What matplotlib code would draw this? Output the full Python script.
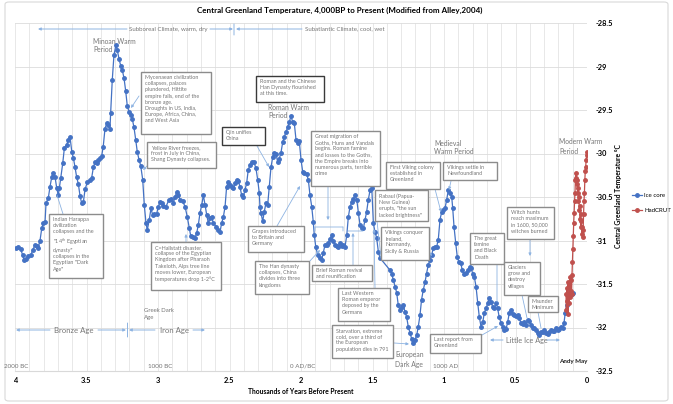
import matplotlib
matplotlib.use("Agg")
import matplotlib.pyplot as plt
from matplotlib.patches import Rectangle, FancyArrowPatch, FancyBboxPatch
import numpy as np

plt.rcParams['font.family'] = ['Lato', 'DejaVu Sans']

# GISP2 ice core (Alley 2004), thousands of years BP vs temperature (deg C)
ice_kyr = [
    3.993, 3.977, 3.960, 3.946, 3.937, 3.923, 3.907, 3.890, 3.876, 3.860,
    3.848, 3.839, 3.825, 3.813, 3.802, 3.790, 3.783, 3.767, 3.755, 3.743,
    3.732, 3.720, 3.708, 3.697, 3.690, 3.680, 3.666, 3.655, 3.638, 3.627,
    3.615, 3.603, 3.592, 3.580, 3.569, 3.557, 3.545, 3.534, 3.522, 3.510,
    3.494, 3.476, 3.464, 3.452, 3.441, 3.429, 3.417, 3.406, 3.394, 3.383,
    3.371, 3.359, 3.348, 3.336, 3.331, 3.320, 3.308, 3.294, 3.285, 3.273,
    3.261, 3.250, 3.238, 3.226, 3.215, 3.203, 3.191, 3.180, 3.168, 3.156,
    3.145, 3.133, 3.121, 3.107, 3.096, 3.084, 3.075, 3.061, 3.049, 3.037,
    3.026, 3.009, 2.998, 2.986, 2.974, 2.963, 2.944, 2.923, 2.909, 2.893,
    2.881, 2.869, 2.858, 2.846, 2.827, 2.811, 2.795, 2.781, 2.771, 2.757,
    2.741, 2.729, 2.718, 2.706, 2.694, 2.683, 2.671, 2.659, 2.648, 2.636,
    2.624, 2.613, 2.594, 2.578, 2.566, 2.555, 2.543, 2.531, 2.520, 2.508,
    2.497, 2.483, 2.473, 2.462, 2.450, 2.438, 2.427, 2.415, 2.403, 2.392,
    2.380, 2.369, 2.357, 2.345, 2.329, 2.315, 2.303, 2.292, 2.287, 2.280,
    2.268, 2.257, 2.245, 2.233, 2.222, 2.210, 2.198, 2.187, 2.175, 2.163,
    2.152, 2.140, 2.128, 2.117, 2.105, 2.093, 2.082, 2.070, 2.058, 2.047,
    2.035, 2.023, 2.012, 2.000, 1.988, 1.977, 1.960, 1.949, 1.937, 1.925,
    1.914, 1.907, 1.897, 1.883, 1.867, 1.855, 1.844, 1.832, 1.820, 1.809,
    1.797, 1.785, 1.774, 1.762, 1.750, 1.739, 1.727, 1.715, 1.704, 1.692,
    1.680, 1.669, 1.657, 1.645, 1.634, 1.622, 1.610, 1.599, 1.587, 1.575,
    1.564, 1.552, 1.541, 1.529, 1.517, 1.505, 1.494, 1.483, 1.471, 1.459,
    1.448, 1.378, 1.366, 1.355, 1.343, 1.331, 1.320, 1.308, 1.296, 1.285,
    1.273, 1.261, 1.250, 1.238, 1.226, 1.215, 1.203, 1.191, 1.180, 1.168,
    1.157, 1.145, 1.133, 1.122, 1.110, 1.098, 1.087, 1.075, 1.063, 1.051,
    1.040, 1.028, 1.016, 1.005, 0.993, 0.981, 0.970, 0.958, 0.946, 0.939,
    0.930, 0.918, 0.907, 0.895, 0.883, 0.872, 0.860, 0.846, 0.831, 0.820,
    0.811, 0.799, 0.788, 0.776, 0.764, 0.753, 0.741, 0.729, 0.718, 0.706,
    0.694, 0.683, 0.671, 0.660, 0.649, 0.636, 0.625, 0.614, 0.601, 0.590,
    0.578, 0.566, 0.555, 0.543, 0.531, 0.520, 0.508, 0.497, 0.485, 0.474,
    0.462, 0.450, 0.439, 0.427, 0.415, 0.404, 0.392, 0.380, 0.369, 0.357,
    0.345, 0.334, 0.322, 0.311, 0.299, 0.287, 0.275, 0.264, 0.252, 0.241,
    0.229, 0.217, 0.205, 0.194, 0.182, 0.170, 0.161, 0.152, 0.142, 0.131,
    0.119, 0.107, 0.096,
]
ice_temp = [
    -31.09, -31.08, -31.10, -31.17, -31.22, -31.21, -31.18, -31.17, -31.11, -31.05,
    -31.06, -31.09, -31.00, -30.86, -30.80, -30.79, -30.57, -30.51, -30.38, -30.27,
    -30.22, -30.27, -30.40, -30.48, -30.40, -30.28, -30.11, -29.94, -29.90, -29.84,
    -29.81, -29.98, -30.05, -30.16, -30.27, -30.35, -30.49, -30.57, -30.56, -30.41,
    -30.33, -30.31, -30.28, -30.16, -30.10, -30.11, -30.07, -30.05, -30.03, -29.92,
    -29.72, -29.65, -29.67, -29.72, -29.53, -29.16, -28.87, -28.75, -28.81, -28.91,
    -28.99, -29.04, -29.13, -29.28, -29.45, -29.52, -29.56, -29.60, -29.70, -29.84,
    -29.98, -30.07, -30.14, -30.30, -30.59, -30.80, -30.88, -30.76, -30.63, -30.71,
    -30.69, -30.69, -30.61, -30.56, -30.57, -30.60, -30.61, -30.53, -30.52, -30.57,
    -30.50, -30.44, -30.48, -30.53, -30.55, -30.61, -30.73, -30.86, -30.95, -30.96,
    -30.97, -30.91, -30.82, -30.68, -30.59, -30.48, -30.59, -30.71, -30.80, -30.74,
    -30.73, -30.80, -30.84, -30.88, -30.90, -30.80, -30.73, -30.61, -30.38, -30.33,
    -30.36, -30.38, -30.40, -30.34, -30.30, -30.32, -30.38, -30.48, -30.50, -30.42,
    -30.34, -30.19, -30.13, -30.10, -30.10, -30.17, -30.30, -30.45, -30.61, -30.68,
    -30.78, -30.67, -30.57, -30.59, -30.38, -30.16, -30.04, -29.99, -30.00, -30.10,
    -30.06, -29.99, -29.87, -29.81, -29.75, -29.70, -29.64, -29.57, -29.64, -29.65,
    -29.84, -29.88, -29.86, -30.07, -30.21, -30.22, -30.24, -30.30, -30.48, -30.61,
    -30.79, -30.94, -31.07, -31.17, -31.20, -31.22, -31.14, -31.05, -31.05, -31.03,
    -30.98, -30.94, -31.00, -31.05, -31.06, -31.07, -31.03, -31.06, -31.05, -31.07,
    -30.94, -30.73, -30.61, -30.56, -30.52, -30.48, -30.53, -30.68, -30.82, -30.86,
    -30.86, -30.76, -30.67, -30.53, -30.42, -30.40, -30.80, -30.90, -30.97, -31.13,
    -31.20, -31.34, -31.38, -31.45, -31.53, -31.60, -31.74, -31.80, -31.76, -31.74,
    -31.82, -31.88, -31.99, -32.06, -32.13, -32.18, -32.14, -32.09, -31.99, -31.86,
    -31.68, -31.57, -31.48, -31.38, -31.28, -31.22, -31.17, -31.09, -31.08, -31.07,
    -30.99, -30.76, -30.67, -30.65, -30.63, -30.53, -30.42, -30.45, -30.50, -30.63,
    -30.84, -31.03, -31.19, -31.25, -31.26, -31.34, -31.38, -31.37, -31.34, -31.30,
    -31.32, -31.38, -31.42, -31.53, -31.72, -31.88, -31.99, -31.94, -31.83, -31.78,
    -31.72, -31.66, -31.71, -31.76, -31.78, -31.72, -31.78, -31.88, -31.95, -31.99,
    -32.03, -32.02, -31.94, -31.83, -31.80, -31.84, -31.86, -31.87, -31.86, -31.89,
    -31.95, -31.96, -31.94, -31.97, -31.91, -31.93, -31.97, -32.01, -32.00, -32.03,
    -32.06, -32.09, -32.05, -32.05, -32.03, -32.06, -32.08, -32.05, -32.03, -32.04,
    -32.04, -32.01, -32.03, -32.02, -31.99, -32.01, -31.95, -31.83, -31.74, -31.65,
    -31.60, -31.61, -31.60,
]

# HadCRUT (scaled to Greenland), thousands of years BP vs temperature
red_kyr = [
    0.147, 0.144, 0.141, 0.138, 0.135, 0.132, 0.129, 0.126, 0.123, 0.120,
    0.117, 0.114, 0.111, 0.108, 0.105, 0.102, 0.099, 0.096, 0.093, 0.090,
    0.087, 0.084, 0.081, 0.078, 0.075, 0.072, 0.069, 0.066, 0.063, 0.060,
    0.057, 0.054, 0.051, 0.048, 0.045, 0.042, 0.039, 0.036, 0.033, 0.030,
    0.027, 0.024, 0.021, 0.018, 0.015, 0.012, 0.009, 0.006, 0.003, 0.001,
]
red_temp = [
    -31.62, -31.80, -31.55, -31.70, -31.48, -31.85, -31.60, -31.72, -31.50, -31.65,
    -31.42, -31.58, -31.45, -31.62, -31.40, -31.25, -31.10, -30.95, -30.80, -30.68,
    -30.55, -30.45, -30.30, -30.22, -30.28, -30.35, -30.30, -30.45, -30.40, -30.55,
    -30.50, -30.65, -30.60, -30.75, -30.70, -30.85, -30.78, -30.92, -30.85, -30.96,
    -30.88, -30.70, -30.55, -30.45, -30.30, -30.20, -30.15, -30.08, -30.02, -29.98,
]

x_ticks = [4, 3.5, 3, 2.5, 2, 1.5, 1, 0.5, 0]
y_ticks = [-28.5, -29, -29.5, -30, -30.5, -31, -31.5, -32, -32.5]

W, H = 673, 404
BLUE = '#4472c4'
RED = '#c0504d'
ARROW = '#8db3e2'
GRAY_TXT = '#767676'
BOX_EDGE = '#8c8c8c'
DARK_EDGE = '#3a3a3a'


def fpos(x, y):
    # pixel position (from top-left) -> figure fraction
    return x / W, 1 - y / H


fig = plt.figure(figsize=(W / 100, H / 100), dpi=100)
fig.patch.set_facecolor('white')
fig.add_artist(FancyBboxPatch(fpos(5, 401), 663 / W, 399 / H, boxstyle='round,pad=0,rounding_size=0.006',
                              transform=fig.transFigure, facecolor='none', edgecolor='#d9d9d9', lw=0.8))

ax = fig.add_axes([15 / W, 1 - 371 / H, 572 / W, 348 / H])
ax.set_xlim(4, 0)
ax.set_ylim(-32.5, -28.5)

ax.plot(ice_kyr, ice_temp, color=BLUE, lw=0.9, marker='o', ms=2.5, mec=BLUE, mfc=BLUE, label='Ice core', zorder=3)
ax.plot(red_kyr, red_temp, color=RED, lw=0.9, marker='o', ms=2.5, mec=RED, mfc=RED, label='HadCRUT', zorder=3)

ax.set_xticks(x_ticks)
ax.set_xticklabels([('%g' % t) for t in x_ticks], fontsize=5.4, fontweight='bold')
ax.set_xticks(np.arange(0, 4.01, 0.1), minor=True)
ax.yaxis.tick_right()
ax.set_yticks(y_ticks)
ax.set_yticklabels([('%g' % t) for t in y_ticks], fontsize=5.4, fontweight='bold')
ax.tick_params(axis='both', which='both', length=0)
ax.tick_params(axis='x', pad=4)
ax.tick_params(axis='y', pad=6)
ax.grid(axis='x', which='both', color='#e4e4e4', lw=0.6)
ax.grid(axis='y', which='major', color='#dcdcdc', lw=0.6)
ax.set_axisbelow(True)
for s in ['top', 'left', 'right']:
    ax.spines[s].set_visible(False)
ax.spines['bottom'].set_color('#d9d9d9')
ax.spines['bottom'].set_linewidth(0.8)

ax.legend(loc='upper left', bbox_to_anchor=fpos(626, 187), bbox_transform=fig.transFigure,
          frameon=False, fontsize=4.4, handlelength=1.7, labelspacing=1.7, handletextpad=0.4)

fig.text(*fpos(340, 10), 'Central Greenland Temperature, 4,000BP to Present (Modified from Alley,2004)',
         ha='center', va='center', fontsize=5.8, fontweight='bold')
fig.text(*fpos(301, 391), 'Thousands of Years Before Present', ha='center', va='center',
         fontsize=4.9, fontweight='bold')
fig.text(*fpos(618, 196), 'Central Greenland Temperature °C', ha='center', va='center',
         rotation=90, fontsize=4.9, fontweight='bold')

# period / era labels, one text per line
labels = [
    (93, 41, 'Minoan Warm', 4.9), (93, 49, 'Period', 4.9),
    (268, 108, 'Roman Warm', 4.9), (268, 116, 'Period', 4.9),
    (434, 144, 'Medieval', 4.9), (434, 152, 'Warm Period', 4.9),
    (559, 142, 'Modern Warm', 4.8), (559, 151, 'Period', 4.8),
    (395, 355, 'European', 4.9), (395, 364, 'Dark Age', 4.9),
    (144, 310, 'Greek Dark', 4.3), (144, 318, 'Age', 4.3),
]
for x, y, t, fs in labels:
    fig.text(*fpos(x, y), t, ha='left', va='center', fontsize=fs, color=GRAY_TXT)

for x, t in [(4, '2000 BC'), (148, '1000 BC'), (290, '0 AD/BC'), (433, '1000 AD')]:
    fig.text(*fpos(x, 366), t, ha='left', va='center', fontsize=4.5, color=GRAY_TXT)
fig.text(*fpos(559, 361), 'Andy May', ha='left', va='center', fontsize=4.5, fontweight='bold', color='#222222')

# annotation boxes: x0, y0, x1, y1 (pixels), text, edge colour
boxes = [
    (141, 72, 211, 134, 'Mycenaean civilization\ncollapses, palaces\nplundered, Hittite\nempire falls, end of the\n'
                        'bronze age.\nDroughts in US, India,\nEurope, Africa, China,\nand West Asia', BOX_EDGE),
    (147, 142, 216, 168, 'Yellow River freezes,\nfrost in July in China,\nShang Dynasty collapses.', BOX_EDGE),
    (256, 76, 324, 102, 'Roman and the Chinese\nHan Dynasty flourished\nat this time.', DARK_EDGE),
    (222, 127, 265, 145, 'Qin unifies\nChina', DARK_EDGE),
    (311, 131, 380, 186, 'Great migration of\nGoths, Huns and Vandals\nbegins. Roman famine\nand losses to the Goths,\n'
                         'the Empire breaks into\nnumerous parts, terrible\ncrime', BOX_EDGE),
    (248, 226, 304, 252, 'Grapes introduced\nto Britain and\nGermany', BOX_EDGE),
    (255, 261, 309, 294, 'The Han dynasty\ncollapses, China\ndivides into three\nkingdoms', BOX_EDGE),
    (312, 265, 372, 281, 'Brief Roman revival\nand reunification', BOX_EDGE),
    (338, 288, 390, 321, 'Last Western\nRoman emperor\ndeposed by the\nGermans', BOX_EDGE),
    (332, 325, 393, 358, 'Starvation, extreme\ncold, over a third of\nthe European\npopulation dies in 791', BOX_EDGE),
    (375, 190, 428, 221, 'Rabaul (Papua-\nNew Guinea)\nerupts, "the sun\nlacked brightness"', BOX_EDGE),
    (386, 162, 440, 189, 'First Viking colony\nestablished in\nGreenland', BOX_EDGE),
    (443, 162, 497, 180, 'Vikings settle in\nNewfoundland', BOX_EDGE),
    (381, 227, 429, 260, 'Vikings conquer\nIreland,\nNormandy,\nSicily & Russia', BOX_EDGE),
    (470, 233, 504, 264, 'The great\nfamine\nand Black\nDeath', BOX_EDGE),
    (507, 207, 554, 239, 'Witch hunts\nreach maximum\nin 1600, 50,000\nwitches burned', BOX_EDGE),
    (504, 262, 540, 295, 'Glaciers\ngrow and\ndestroy\nvillages', BOX_EDGE),
    (528, 296, 558, 312, 'Maunder\nMinimum', BOX_EDGE),
    (430, 334, 481, 353, 'Last report from\nGreenland', BOX_EDGE),
    (49, 214, 103, 278, 'Indian Harappa\ncivilization\ncollapses and the\n"14$^{\\mathregular{th}}$ Egyptian\n'
                        'dynasty"\ncollapses in the\nEgyptian "Dark\nAge"', BOX_EDGE),
    (151, 242, 221, 290, 'C=Hallstatt disaster,\ncollapse of the Egyptian\nKingdom after Pharaoh\n'
                         'Takeloth, Alps tree line\nmoves lower, European\ntemperatures drop 1-2°C', BOX_EDGE),
]
for x0, y0, x1, y1, t, ec in boxes:
    fig.add_artist(Rectangle(fpos(x0, y1), (x1 - x0) / W, (y1 - y0) / H, transform=fig.transFigure,
                             facecolor='white', edgecolor=ec, lw=1.0, zorder=5))
    fig.text(*fpos(x0 + 4, y0 + 3), t, ha='left', va='top', fontsize=3.9, color=GRAY_TXT,
             linespacing=1.3, zorder=6)

# pointer lines: start, end, arrow head?
pointers = [
    ((139, 96), (131, 108), True),
    ((147, 166), (143, 170), True),
    ((257, 146), (269, 167), True),
    ((328, 187), (328, 220), True),
    ((277, 226), (300, 186), True),
    ((309, 262), (320, 250), True),
    ((353, 265), (353, 233), True),
    ((375, 288), (374, 229), True),
    ((377, 221), (381, 258), False),
    ((394, 343), (409, 344), True),
    ((435, 189), (441, 212), True),
    ((451, 181), (449, 190), True),
    ((428, 251), (432, 256), True),
    ((497, 265), (497, 302), False),
    ((530, 239), (530, 256), True),
    ((522, 295), (527, 318), False),
    ((538, 312), (541, 328), False),
    ((482, 335), (498, 326), True),
    ((63, 214), (57, 195), False),
    ((186, 242), (186, 234), True),
    ((315, 227), (343, 227), False),
    ((315, 227), (315, 231), False),
    ((343, 227), (343, 231), False),
    ((348, 231), (363, 231), False),
]
for a, b, head in pointers:
    fig.add_artist(FancyArrowPatch(fpos(*a), fpos(*b), transform=fig.transFigure,
                                   arrowstyle='-|>' if head else '-', mutation_scale=4,
                                   lw=0.6, color=ARROW, shrinkA=0, shrinkB=0, zorder=4))

# era spans with arrows
spans = [
    ((127, 29), (38, 29), True), ((210, 29), (233, 29), True), ((302, 29), (236, 29), True),
    ((234, 24), (234, 35), False),
    ((50, 330), (16, 330), True), ((98, 330), (126, 330), True), ((155, 330), (129, 330), True),
    ((193, 330), (205, 330), True), ((127.5, 323), (127.5, 337), False),
    ((503, 340), (490, 340), True), ((547, 340), (560, 340), True),
]
for a, b, head in spans:
    fig.add_artist(FancyArrowPatch(fpos(*a), fpos(*b), transform=fig.transFigure,
                                   arrowstyle='-|>' if head else '-', mutation_scale=4,
                                   lw=0.7, color=ARROW, shrinkA=0, shrinkB=0, zorder=4))

fig.text(*fpos(168, 29), 'Subboreal Climate, warm, dry', ha='center', va='center', fontsize=4.4, color=GRAY_TXT)
fig.text(*fpos(305, 29), 'Subatlantic Climate, cool, wet', ha='left', va='center', fontsize=4.4, color=GRAY_TXT)
fig.text(*fpos(74, 330), 'Bronze Age', ha='center', va='center', fontsize=5.6, color=GRAY_TXT)
fig.text(*fpos(174, 330), 'Iron Age', ha='center', va='center', fontsize=5.6, color=GRAY_TXT)
fig.text(*fpos(527, 340), 'Little Ice Age', ha='center', va='center', fontsize=5.2, color=GRAY_TXT)

fig.savefig('out.png', dpi=100)
